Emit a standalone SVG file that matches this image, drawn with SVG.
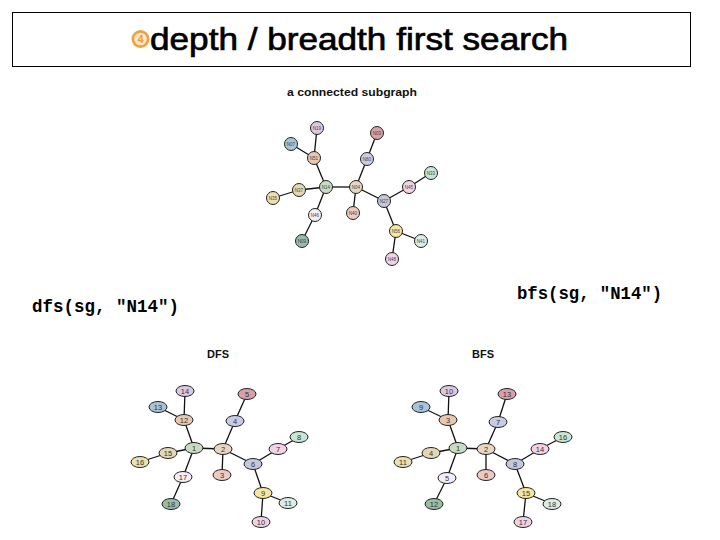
<svg xmlns="http://www.w3.org/2000/svg" width="720" height="540" viewBox="0 0 720 540">
<style>
.e{stroke:#111;stroke-width:1.3;fill:none}
.n{stroke:#222;stroke-width:1}
.t{font-family:"Liberation Sans",Arial,sans-serif;font-size:4.5px;fill:#444;text-anchor:middle}
.d{font-family:"Liberation Sans",Arial,sans-serif;font-size:7.5px;fill:#333;text-anchor:middle}
.h{font-family:"Liberation Sans",Arial,sans-serif;font-weight:bold;fill:#111;text-anchor:middle}
.code{font-family:"Liberation Mono","Courier New",monospace;font-weight:bold;font-size:17.5px;fill:#000}
.c1{fill:#dcc8e4}.c2{fill:#a8c4d8}.c3{fill:#e8c8b0}.c4{fill:#c8dcc0}.c5{fill:#e4d8b4}.c6{fill:#ece0b0}
.c7{fill:#f6ecf4}.c8{fill:#98bca8}.c9{fill:#e8d6c0}.c10{fill:#eccac2}.c11{fill:#c8cce6}.c12{fill:#d8a0a8}
.c13{fill:#c4c8d8}.c14{fill:#f4d2e6}.c15{fill:#c8e6d2}.c16{fill:#f8e6a0}.c17{fill:#dcece2}.c18{fill:#f0d2e6}
</style>
<rect width="720" height="540" fill="#fff"/>
<g id="title">
<rect x="12.5" y="12.5" width="678" height="54" fill="#fff" stroke="#000" stroke-width="1"/>
<circle cx="140.5" cy="39" r="9" fill="#f0a040"/>
<circle cx="140.5" cy="39" r="6.3" fill="#fde6c8"/>
<text x="140.5" y="43" font-family="Liberation Sans,Arial,sans-serif" font-size="11" font-weight="bold" fill="#f0a040" text-anchor="middle">4</text>
<text x="150" y="50" font-family="Liberation Sans,Arial,sans-serif" font-size="32" fill="#000" stroke="#000" stroke-width="0.7" textLength="418" lengthAdjust="spacingAndGlyphs">depth / breadth first search</text>
</g>
<text id="dfs-code" class="code" x="32" y="312" textLength="147" lengthAdjust="spacingAndGlyphs">dfs(sg, "N14")</text>
<text id="bfs-code" class="code" x="517" y="299" textLength="145" lengthAdjust="spacingAndGlyphs">bfs(sg, "N14")</text>

<text class="h" x="352" y="96" font-size="11" textLength="130" lengthAdjust="spacingAndGlyphs">a connected subgraph</text>
<text class="h" x="218" y="358" font-size="11">DFS</text>
<text class="h" x="483" y="358" font-size="11">BFS</text>

<g id="connectors">
<g id="sub-edges" class="e">
<line x1="317" y1="128" x2="314" y2="158"/>
<line x1="291" y1="144" x2="314" y2="158"/>
<line x1="314" y1="158" x2="326" y2="187"/>
<line x1="326" y1="187" x2="299" y2="190"/>
<line x1="299" y1="190" x2="273" y2="198"/>
<line x1="326" y1="187" x2="315" y2="215"/>
<line x1="315" y1="215" x2="302" y2="241"/>
<line x1="326" y1="187" x2="356" y2="187"/>
<line x1="356" y1="187" x2="367" y2="159"/>
<line x1="367" y1="159" x2="377" y2="133"/>
<line x1="356" y1="187" x2="353" y2="213"/>
<line x1="356" y1="187" x2="384" y2="201"/>
<line x1="384" y1="201" x2="409" y2="187"/>
<line x1="409" y1="187" x2="431" y2="173"/>
<line x1="384" y1="201" x2="396" y2="231"/>
<line x1="396" y1="231" x2="421" y2="241"/>
<line x1="396" y1="231" x2="392" y2="259"/>
</g>
<g id="dfs-edges" class="e">
<line x1="185" y1="391" x2="184" y2="420"/>
<line x1="158" y1="407" x2="184" y2="420"/>
<line x1="184" y1="420" x2="194" y2="448"/>
<line x1="194" y1="448" x2="168" y2="453"/>
<line x1="168" y1="453" x2="140" y2="462"/>
<line x1="194" y1="448" x2="183" y2="477"/>
<line x1="183" y1="477" x2="171" y2="504"/>
<line x1="194" y1="448" x2="223" y2="449"/>
<line x1="223" y1="449" x2="235" y2="421"/>
<line x1="235" y1="421" x2="247" y2="394"/>
<line x1="223" y1="449" x2="222" y2="475"/>
<line x1="223" y1="449" x2="253" y2="464"/>
<line x1="253" y1="464" x2="278" y2="449"/>
<line x1="278" y1="449" x2="299" y2="437"/>
<line x1="253" y1="464" x2="263" y2="493"/>
<line x1="263" y1="493" x2="288" y2="503"/>
<line x1="263" y1="493" x2="261" y2="522"/>
</g>
<g id="bfs-edges" class="e">
<line x1="449" y1="391" x2="448" y2="420"/>
<line x1="421" y1="407" x2="448" y2="420"/>
<line x1="448" y1="420" x2="458" y2="448"/>
<line x1="458" y1="448" x2="431" y2="453"/>
<line x1="431" y1="453" x2="403" y2="462"/>
<line x1="458" y1="448" x2="447" y2="478"/>
<line x1="447" y1="478" x2="434" y2="504"/>
<line x1="458" y1="448" x2="486" y2="449"/>
<line x1="486" y1="449" x2="498" y2="422"/>
<line x1="498" y1="422" x2="507" y2="394"/>
<line x1="486" y1="449" x2="486" y2="475"/>
<line x1="486" y1="449" x2="515" y2="464"/>
<line x1="515" y1="464" x2="540" y2="449"/>
<line x1="540" y1="449" x2="563" y2="437"/>
<line x1="515" y1="464" x2="526" y2="493"/>
<line x1="526" y1="493" x2="552" y2="504"/>
<line x1="526" y1="493" x2="523" y2="522"/>
</g>
</g>

<g id="subgraph">
<g id="N19"><circle class="n c1" cx="317" cy="128" r="6.5"/><text class="t" x="317" y="129.6">N19</text></g>
<g id="N07"><circle class="n c2" cx="291" cy="144" r="6.5"/><text class="t" x="291" y="145.6">N07</text></g>
<g id="N51"><circle class="n c3" cx="314" cy="158" r="6.5"/><text class="t" x="314" y="159.6">N51</text></g>
<g id="N14"><circle class="n c4" cx="326" cy="187" r="6.5"/><text class="t" x="326" y="188.6">N14</text></g>
<g id="N37"><circle class="n c5" cx="299" cy="190" r="6.5"/><text class="t" x="299" y="191.6">N37</text></g>
<g id="N35"><circle class="n c6" cx="273" cy="198" r="6.5"/><text class="t" x="273" y="199.6">N35</text></g>
<g id="N46"><circle class="n c7" cx="315" cy="215" r="6.5"/><text class="t" x="315" y="216.6">N46</text></g>
<g id="N09"><circle class="n c8" cx="302" cy="241" r="6.5"/><text class="t" x="302" y="242.6">N09</text></g>
<g id="N04"><circle class="n c9" cx="356" cy="187" r="6.5"/><text class="t" x="356" y="188.6">N04</text></g>
<g id="N40"><circle class="n c10" cx="353" cy="213" r="6.5"/><text class="t" x="353" y="214.6">N40</text></g>
<g id="N80"><circle class="n c11" cx="367" cy="159" r="6.5"/><text class="t" x="367" y="160.6">N80</text></g>
<g id="N03"><circle class="n c12" cx="377" cy="133" r="6.5"/><text class="t" x="377" y="134.6">N03</text></g>
<g id="N27"><circle class="n c13" cx="384" cy="201" r="6.5"/><text class="t" x="384" y="202.6">N27</text></g>
<g id="N45"><circle class="n c14" cx="409" cy="187" r="6.5"/><text class="t" x="409" y="188.6">N45</text></g>
<g id="N33"><circle class="n c15" cx="431" cy="173" r="6.5"/><text class="t" x="431" y="174.6">N33</text></g>
<g id="N56"><circle class="n c16" cx="396" cy="231" r="6.5"/><text class="t" x="396" y="232.6">N56</text></g>
<g id="N41"><circle class="n c17" cx="421" cy="241" r="6.5"/><text class="t" x="421" y="242.6">N41</text></g>
<g id="N48"><circle class="n c18" cx="392" cy="259" r="6.5"/><text class="t" x="392" y="260.6">N48</text></g>
</g>

<g id="dfs">
<g id="d14"><ellipse class="n c1" cx="185" cy="391" rx="9" ry="5.5"/><text class="d" x="185" y="393.7">14</text></g>
<g id="d13"><ellipse class="n c2" cx="158" cy="407" rx="9" ry="5.5"/><text class="d" x="158" y="409.7">13</text></g>
<g id="d12"><ellipse class="n c3" cx="184" cy="420" rx="9" ry="5.5"/><text class="d" x="184" y="422.7">12</text></g>
<g id="d1"><ellipse class="n c4" cx="194" cy="448" rx="9" ry="5.5"/><text class="d" x="194" y="450.7">1</text></g>
<g id="d15"><ellipse class="n c5" cx="168" cy="453" rx="9" ry="5.5"/><text class="d" x="168" y="455.7">15</text></g>
<g id="d16"><ellipse class="n c6" cx="140" cy="462" rx="9" ry="5.5"/><text class="d" x="140" y="464.7">16</text></g>
<g id="d17"><ellipse class="n c7" cx="183" cy="477" rx="9" ry="5.5"/><text class="d" x="183" y="479.7">17</text></g>
<g id="d18"><ellipse class="n c8" cx="171" cy="504" rx="9" ry="5.5"/><text class="d" x="171" y="506.7">18</text></g>
<g id="d2"><ellipse class="n c9" cx="223" cy="449" rx="9" ry="5.5"/><text class="d" x="223" y="451.7">2</text></g>
<g id="d3"><ellipse class="n c10" cx="222" cy="475" rx="9" ry="5.5"/><text class="d" x="222" y="477.7">3</text></g>
<g id="d4"><ellipse class="n c11" cx="235" cy="421" rx="9" ry="5.5"/><text class="d" x="235" y="423.7">4</text></g>
<g id="d5"><ellipse class="n c12" cx="247" cy="394" rx="9" ry="5.5"/><text class="d" x="247" y="396.7">5</text></g>
<g id="d6"><ellipse class="n c13" cx="253" cy="464" rx="9" ry="5.5"/><text class="d" x="253" y="466.7">6</text></g>
<g id="d7"><ellipse class="n c14" cx="278" cy="449" rx="9" ry="5.5"/><text class="d" x="278" y="451.7">7</text></g>
<g id="d8"><ellipse class="n c15" cx="299" cy="437" rx="9" ry="5.5"/><text class="d" x="299" y="439.7">8</text></g>
<g id="d9"><ellipse class="n c16" cx="263" cy="493" rx="9" ry="5.5"/><text class="d" x="263" y="495.7">9</text></g>
<g id="d11"><ellipse class="n c17" cx="288" cy="503" rx="9" ry="5.5"/><text class="d" x="288" y="505.7">11</text></g>
<g id="d10"><ellipse class="n c18" cx="261" cy="522" rx="9" ry="5.5"/><text class="d" x="261" y="524.7">10</text></g>
</g>

<g id="bfs">
<g id="b10"><ellipse class="n c1" cx="449" cy="391" rx="9" ry="5.5"/><text class="d" x="449" y="393.7">10</text></g>
<g id="b9"><ellipse class="n c2" cx="421" cy="407" rx="9" ry="5.5"/><text class="d" x="421" y="409.7">9</text></g>
<g id="b3"><ellipse class="n c3" cx="448" cy="420" rx="9" ry="5.5"/><text class="d" x="448" y="422.7">3</text></g>
<g id="b1"><ellipse class="n c4" cx="458" cy="448" rx="9" ry="5.5"/><text class="d" x="458" y="450.7">1</text></g>
<g id="b4"><ellipse class="n c5" cx="431" cy="453" rx="9" ry="5.5"/><text class="d" x="431" y="455.7">4</text></g>
<g id="b11"><ellipse class="n c6" cx="403" cy="462" rx="9" ry="5.5"/><text class="d" x="403" y="464.7">11</text></g>
<g id="b5"><ellipse class="n c7" cx="447" cy="478" rx="9" ry="5.5"/><text class="d" x="447" y="480.7">5</text></g>
<g id="b12"><ellipse class="n c8" cx="434" cy="504" rx="9" ry="5.5"/><text class="d" x="434" y="506.7">12</text></g>
<g id="b2"><ellipse class="n c9" cx="486" cy="449" rx="9" ry="5.5"/><text class="d" x="486" y="451.7">2</text></g>
<g id="b6"><ellipse class="n c10" cx="486" cy="475" rx="9" ry="5.5"/><text class="d" x="486" y="477.7">6</text></g>
<g id="b7"><ellipse class="n c11" cx="498" cy="422" rx="9" ry="5.5"/><text class="d" x="498" y="424.7">7</text></g>
<g id="b13"><ellipse class="n c12" cx="507" cy="394" rx="9" ry="5.5"/><text class="d" x="507" y="396.7">13</text></g>
<g id="b8"><ellipse class="n c13" cx="515" cy="464" rx="9" ry="5.5"/><text class="d" x="515" y="466.7">8</text></g>
<g id="b14"><ellipse class="n c14" cx="540" cy="449" rx="9" ry="5.5"/><text class="d" x="540" y="451.7">14</text></g>
<g id="b16"><ellipse class="n c15" cx="563" cy="437" rx="9" ry="5.5"/><text class="d" x="563" y="439.7">16</text></g>
<g id="b15"><ellipse class="n c16" cx="526" cy="493" rx="9" ry="5.5"/><text class="d" x="526" y="495.7">15</text></g>
<g id="b18"><ellipse class="n c17" cx="552" cy="504" rx="9" ry="5.5"/><text class="d" x="552" y="506.7">18</text></g>
<g id="b17"><ellipse class="n c18" cx="523" cy="522" rx="9" ry="5.5"/><text class="d" x="523" y="524.7">17</text></g>
</g>
</svg>
